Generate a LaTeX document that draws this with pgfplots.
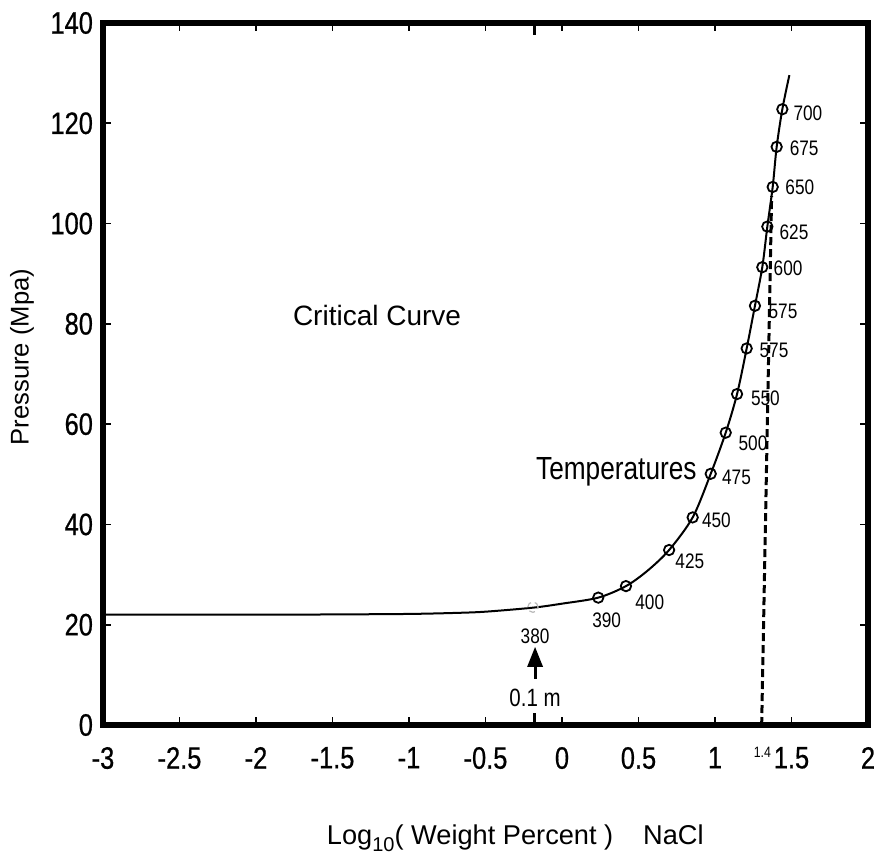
\documentclass[border=0pt]{standalone}
\usepackage{fontspec}
\setmainfont{Liberation Sans}
\newfontfamily\nf{Liberation Sans}[FakeStretch=0.82]
\newfontfamily\tf{Liberation Sans}[FakeStretch=0.82, FakeBold=0.6]
\usepackage{pgfplots}
\pgfplotsset{compat=1.18}
\usetikzlibrary{arrows.meta}

% circles on the critical curve
\pgfplotstableread{
x      y
0.237  25.4
0.418  27.7
0.700  34.9
0.854  41.4
0.972  50.1
1.070  58.3
1.144  66.0
1.207  75.1
1.261  83.6
1.309  91.3
1.342  99.4
1.377  107.3
1.403  115.3
1.440  122.8
}\temps

\begin{document}
\begin{tikzpicture}
\useasboundingbox (-51.5pt,-68.5pt) rectangle (386.5pt,362.5pt);
\begin{axis}[
  at={(0,0)}, anchor=south west,
  scale only axis,
  width=382.5pt, height=351pt,
  xmin=-3, xmax=2, ymin=0, ymax=140,
  xtick={-3,-2.5,-2,-1.5,-1,-0.5,0,0.5,1,1.5,2},
  xticklabels={-3,-2.5,-2,-1.5,-1,-0.5,0,0.5,1,1.5,2},
  ytick={0,20,40,60,80,100,120,140},
  yticklabels={0,20,40,60,80,100,120,140},
  extra x ticks={-0.18},
  extra x tick labels={},
  extra x tick style={major tick length=6pt, tick style={line width=1.4pt}},
  tick align=inside,
  major tick length=4pt,
  tick style={line width=0.9pt, black},
  axis line style={line width=3pt},
  ticklabel style={font=\tf\fontsize{15.5}{16}\selectfont},
  xticklabel style={yshift=-7.5pt},
  yticklabel style={xshift=-1.5pt},
  xlabel={Log\raisebox{-0.5ex}{\fontsize{10}{10}\selectfont 10}( Weight Percent )\hspace{1.1em}NaCl},
  ylabel={Pressure (Mpa)},
  every axis x label/.style={at={(axis description cs:0.539,-0.161)}, anchor=center,
    font=\fontsize{13.6}{15}\selectfont},
  every axis y label/.style={at={(axis description cs:-0.106,0.524)}, anchor=center, rotate=90,
    font=\fontsize{12.8}{14}\selectfont},
  clip=false,
]
% critical curve
\addplot[black, line width=1pt, smooth, tension=0.5] coordinates {
(-3,22.0) (-2,22.0) (-1.5,22.05) (-1,22.15) (-0.7,22.35) (-0.5,22.6)
(-0.19,23.4) (0,24.2) (0.237,25.4) (0.418,27.7) (0.56,30.8) (0.70,34.9)
(0.854,41.4) (0.972,50.1) (1.07,58.3) (1.144,66.0) (1.207,75.1)
(1.261,83.6) (1.309,91.3) (1.342,99.4) (1.377,107.3) (1.403,115.3)
(1.44,122.8) (1.486,129.6)
};
% temperature markers
\addplot[only marks, mark=o, mark size=2.6pt, mark options={line width=0.9pt, black}] table[x=x, y=y] {\temps};
\addplot[only marks, mark=o, mark size=2.6pt, mark options={line width=0.6pt, gray!55, densely dashed}] coordinates {(-0.19,23.5)};
% dashed limit at 1.4
\addplot[black, line width=1.5pt, dash pattern=on 4pt off 2pt] coordinates {(1.305,0) (1.37,105.5)};

% temperature labels
\begin{scope}[every node/.style={font=\nf\fontsize{10.5}{11}\selectfont, anchor=west, inner sep=0pt}]
\node at (axis cs:1.511,122.0) {700};
\node at (axis cs:1.486,115.1) {675};
\node at (axis cs:1.458,107.3) {650};
\node at (axis cs:1.420,98.3) {625};
\node at (axis cs:1.381,91.1) {600};
\node at (axis cs:1.348,82.4) {575};
\node at (axis cs:1.289,74.8) {575};
\node at (axis cs:1.233,65.2) {550};
\node at (axis cs:1.152,56.2) {500};
\node at (axis cs:1.044,49.3) {475};
\node at (axis cs:0.913,40.9) {450};
\node at (axis cs:0.739,32.6) {425};
\node at (axis cs:0.477,24.4) {400};
\node[anchor=center] at (axis cs:0.292,20.9) {390};
\node[anchor=center] at (axis cs:-0.176,17.6) {380};
\end{scope}

\node[font=\nf\fontsize{12.5}{13}\selectfont, inner sep=0pt] at (axis cs:-0.176,5.4) {0.1 m};
\draw[line width=1.5pt, -{Triangle[width=7.5pt,length=10pt]}] (axis cs:-0.176,9.2) -- (axis cs:-0.176,15.6);
\node[font=\nf\fontsize{7.5}{8}\selectfont, inner sep=0pt] at (axis cs:1.31,-5.4) {1.4};

\node[font=\fontsize{14}{15}\selectfont, inner sep=0pt] at (axis cs:-1.209,81.6) {Critical Curve};
\node[font=\nf\fontsize{16}{17}\selectfont, inner sep=0pt, anchor=east] at (axis cs:0.882,50.5) {Temperatures};
\end{axis}
\end{tikzpicture}
\end{document}
